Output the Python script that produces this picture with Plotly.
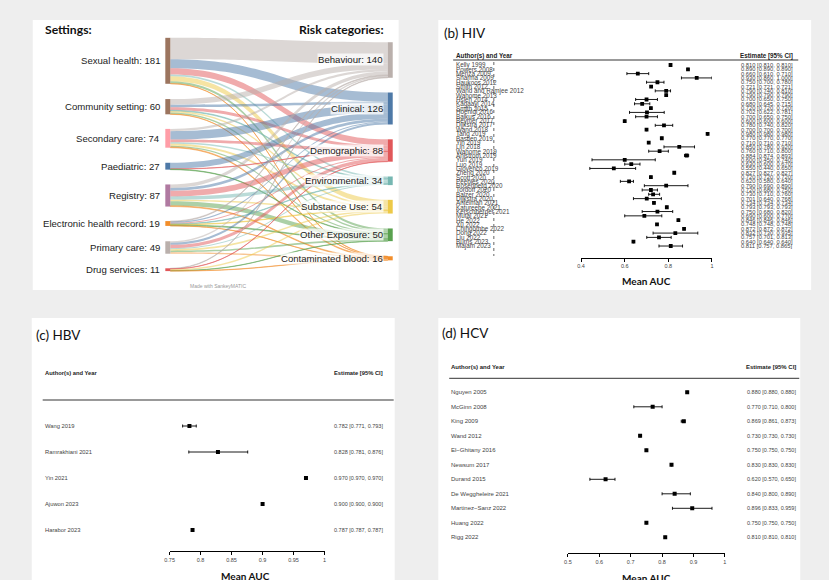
import plotly.graph_objects as go

W, H = 829, 580

# ---------------- Sankey data ----------------
settings = ["Sexual health", "Community setting", "Secondary care", "Paediatric",
            "Registry", "Electronic health record", "Primary care", "Drug services"]
risks = ["Behaviour", "Clinical", "Demographic", "Environmental",
         "Substance Use", "Other Exposure", "Contaminated blood"]
# flows[setting][risk]
flows = [
    [84, 36, 24, 7, 20, 9, 1],
    [22, 10, 12, 3, 6, 6, 1],
    [9, 33, 11, 5, 8, 5, 3],
    [0, 24, 1, 0, 0, 2, 0],
    [14, 11, 22, 13, 6, 18, 3],
    [3, 4, 4, 2, 2, 3, 1],
    [6, 8, 13, 4, 6, 6, 6],
    [2, 0, 1, 0, 6, 1, 1],
]
setting_colors = ["#9c755f", "#9c755f", "#ff9da7", "#4e79a7", "#b07aa1", "#f28e2b", "#bab0ac", "#e15759"]
risk_colors = ["#bab0ac", "#4e79a7", "#e15759", "#76b7b2", "#edc948", "#59a14f", "#f28e2b"]

# ---------------- Forest data ----------------
hiv_names = ["Kelly 1999", "Powers 2008", "Menza 2009", "Sharma 2009", "Haukoos 2012", "Smith 2012",
             "Wand and Ramjee 2012", "Wahome 2013", "Hsieh 2014", "Kagaayi 2014", "Smith 2015",
             "Hoenigl 2016", "Balkus 2016", "Beymer 2017", "Dijkstra 2017", "Wand 2018", "Tang 2019",
             "Bastien 2019", "Yin 2019", "Lin 2018", "Wahome 2019", "Ahlstrom 2019", "Yun 2019",
             "Luo 2019", "Giovenco 2019", "Zheng 2020", "Scott 2020", "Peebles 2020", "Rosenberg 2020",
             "Tordoff 2020", "Balzer 2020", "Dijkstra 2020", "Anteiman 2021", "Katureebe 2021",
             "Kerschberger 2021", "Mutai 2021", "He 2022", "Xu 2022", "Chingombe 2022", "Dong 2022",
             "Liu 2022", "Burns 2023", "Majam 2023"]
hiv_est = [0.810, 0.890, 0.660, 0.930, 0.750, 0.721, 0.790, 0.790, 0.700, 0.680, 0.720, 0.702, 0.700,
           0.600, 0.780, 0.700, 0.980, 0.770, 0.710, 0.850, 0.760, 0.884, 0.600, 0.630, 0.550, 0.827,
           0.720, 0.620, 0.790, 0.720, 0.730, 0.701, 0.734, 0.793, 0.750, 0.690, 0.846, 0.748, 0.872,
           0.832, 0.757, 0.640, 0.811]
hiv_lo = [0.810, 0.890, 0.610, 0.860, 0.700, 0.721, 0.740, 0.790, 0.650, 0.645, 0.720, 0.622, 0.650,
          0.600, 0.740, 0.700, 0.980, 0.770, 0.710, 0.780, 0.710, 0.874, 0.450, 0.600, 0.440, 0.827,
          0.720, 0.580, 0.690, 0.680, 0.710, 0.640, 0.734, 0.793, 0.680, 0.600, 0.846, 0.748, 0.872,
          0.730, 0.701, 0.640, 0.757]
hiv_hi = [0.810, 0.890, 0.710, 1.000, 0.780, 0.721, 0.810, 0.790, 0.750, 0.715, 0.720, 0.781, 0.750,
          0.600, 0.820, 0.700, 0.980, 0.770, 0.710, 0.920, 0.800, 0.893, 0.740, 0.670, 0.650, 0.827,
          0.720, 0.640, 0.890, 0.750, 0.760, 0.768, 0.734, 0.793, 0.820, 0.770, 0.846, 0.748, 0.872,
          0.935, 0.813, 0.640, 0.865]
hiv_ticks = [0.4, 0.6, 0.8, 1.0]
hiv_ticktext = ["0.4", "0.6", "0.8", "1"]

hbv_names = ["Wang 2019", "Ramrakhiani 2021", "Yin 2021", "Ajuwon 2023", "Harabor 2023"]
hbv_est = [0.782, 0.828, 0.970, 0.900, 0.787]
hbv_lo = [0.771, 0.781, 0.970, 0.900, 0.787]
hbv_hi = [0.793, 0.876, 0.970, 0.900, 0.787]
hbv_ticks = [0.75, 0.8, 0.85, 0.9, 0.95, 1.0]
hbv_ticktext = ["0.75", "0.8", "0.85", "0.9", "0.95", "1"]

hcv_names = ["Nguyen 2005", "McGinn 2008", "King 2009", "Wand 2012", "El\u2212Ghitany 2016", "Newsum 2017",
             "Durand 2015", "De Weggheleire 2021", "Martinez\u2212Sanz 2022", "Huang 2022", "Rigg 2022"]
hcv_est = [0.880, 0.770, 0.869, 0.730, 0.750, 0.830, 0.620, 0.840, 0.896, 0.750, 0.810]
hcv_lo = [0.880, 0.710, 0.861, 0.730, 0.750, 0.830, 0.570, 0.800, 0.833, 0.750, 0.810]
hcv_hi = [0.880, 0.800, 0.873, 0.730, 0.750, 0.830, 0.650, 0.890, 0.959, 0.750, 0.810]
hcv_ticks = [0.5, 0.6, 0.7, 0.8, 0.9, 1.0]
hcv_ticktext = ["0.5", "0.6", "0.7", "0.8", "0.9", "1"]


def px(x):
    return x / W


def py(y):
    return 1 - y / H


def rgba(hexc, a):
    h = hexc.lstrip("#")
    return "rgba(%d,%d,%d,%g)" % (int(h[0:2], 16), int(h[2:4], 16), int(h[4:6], 16), a)


fig = go.Figure()
shapes = []
annotations = []

# panels
panels = [(28, 20, 397, 290), (437, 20, 813, 290), (27, 318, 393, 580), (437, 318, 802, 580)]
for (x0, y0, x1, y1) in panels:
    shapes.append(dict(type="rect", xref="paper", yref="paper", x0=px(x0), x1=px(x1), y0=py(y1), y1=py(y0),
                       fillcolor="white", line=dict(width=0), layer="below"))

# ---------------- Sankey ----------------
sx0, sx1, sy0, sy1 = 159, 394, 38, 272
left_cy = [60.8, 106.7, 138.3, 166.2, 195.5, 223.5, 247.5, 269.7]
right_cy = [60.0, 108.5, 150.5, 180.8, 206.7, 234.8, 258.3]
left_cx, right_cx = 164.2, 388.5
node_x = [(left_cx - sx0) / (sx1 - sx0)] * len(settings) + [(right_cx - sx0) / (sx1 - sx0)] * len(risks)
node_y = [(c - sy0) / (sy1 - sy0) for c in left_cy] + [(c - sy0) / (sy1 - sy0) for c in right_cy]

src, tgt, val, lcol = [], [], [], []
for i, row in enumerate(flows):
    for j, v in enumerate(row):
        if v > 0:
            src.append(i)
            tgt.append(len(settings) + j)
            val.append(v)
            lcol.append(rgba(risk_colors[j], 0.5))

fig.add_trace(go.Sankey(
    domain=dict(x=[px(sx0), px(sx1)], y=[py(sy1), py(sy0)]),
    arrangement="fixed",
    node=dict(label=[""] * (len(settings) + len(risks)), x=node_x, y=node_y, pad=15, thickness=5,
              color=setting_colors + risk_colors, line=dict(width=0)),
    link=dict(source=src, target=tgt, value=val, color=lcol),
    hoverinfo="none",
))

lab_font = dict(family="Liberation Sans, Arial", size=9.6, color="#222")
for i, name in enumerate(settings):
    annotations.append(dict(x=px(158), y=py(left_cy[i]), xref="paper", yref="paper", xanchor="right",
                            yanchor="middle", showarrow=False,
                            text="%s: %d" % (name, sum(flows[i])), font=lab_font))
for j, name in enumerate(risks):
    annotations.append(dict(x=px(382), y=py(right_cy[j]), xref="paper", yref="paper", xanchor="right",
                            yanchor="middle", showarrow=False, bgcolor="rgba(255,255,255,0.75)",
                            borderpad=0,
                            text="%s: %d" % (name, sum(r[j] for r in flows)), font=lab_font))
title_font = dict(family="Lato, Open Sans", size=12.2, color="#111")
annotations.append(dict(x=px(38), y=py(30), xref="paper", yref="paper", xanchor="left", yanchor="middle",
                        showarrow=False, text="<b>Settings:</b>", font=title_font))
annotations.append(dict(x=px(384), y=py(30), xref="paper", yref="paper", xanchor="right", yanchor="middle",
                        showarrow=False, text="<b>Risk categories:</b>", font=title_font))
annotations.append(dict(x=px(215), y=py(286), xref="paper", yref="paper", xanchor="center", yanchor="middle",
                        showarrow=False, text="Made with SankeyMATIC",
                        font=dict(family="Liberation Sans", size=5, color="#999")))

# ---------------- Forest plots ----------------
def forest(idx, names, est, lo, hi, ticks, ticktext, xr, xpix, first, spacing, axis_y,
           lab_x, est_x, name_size, est_size, msize, head_y, line_y, line_col, line_w,
           title, title_xy, mean_xy, head_x0, head_x1, dotted=None):
    xa = "xaxis%d" % idx
    ya = "yaxis%d" % idx
    top = first - spacing
    yr = [(axis_y - first) / spacing + 1, 0]
    rows = list(range(1, len(names) + 1))
    fig.add_trace(go.Scatter(
        x=est, y=rows, mode="markers", xaxis="x%d" % idx, yaxis="y%d" % idx,
        marker=dict(symbol="square", size=msize, color="black"),
        error_x=dict(type="data", symmetric=False,
                     array=[h - e for h, e in zip(hi, est)],
                     arrayminus=[e - l for e, l in zip(est, lo)],
                     color="black", thickness=0.9, width=1.5),
        hoverinfo="skip", showlegend=False))
    fig.layout[xa] = dict(domain=[px(xpix[0]), px(xpix[1])], range=xr, anchor="y%d" % idx,
                          showgrid=False, zeroline=False, showline=True, linecolor="black", linewidth=1,
                          ticks="outside", ticklen=3, tickwidth=1, tickcolor="black",
                          tickvals=ticks, ticktext=ticktext, fixedrange=True,
                          tickfont=dict(family="Liberation Sans", size=5.5, color="#444"))
    fig.layout[ya] = dict(domain=[py(axis_y), py(top)], range=yr, anchor="x%d" % idx, visible=False,
                          fixedrange=True)
    yref = "y%d" % idx
    for r, n, e, l, h in zip(rows, names, est, lo, hi):
        annotations.append(dict(x=px(lab_x), y=r, xref="paper", yref=yref, xanchor="left", yanchor="middle",
                                showarrow=False, text=n,
                                font=dict(family="Liberation Sans", size=name_size, color="#444")))
        annotations.append(dict(x=px(est_x), y=r, xref="paper", yref=yref, xanchor="right", yanchor="middle",
                                showarrow=False, text="%.3f [%.3f, %.3f]" % (e, l, h),
                                font=dict(family="Liberation Sans", size=est_size, color="#444")))
    hf = dict(family="Liberation Sans", size=name_size, color="#222")
    annotations.append(dict(x=px(lab_x), y=py(head_y), xref="paper", yref="paper", xanchor="left",
                            yanchor="middle", showarrow=False, text="<b>Author(s) and Year</b>", font=hf))
    annotations.append(dict(x=px(est_x), y=py(head_y), xref="paper", yref="paper", xanchor="right",
                            yanchor="middle", showarrow=False, text="<b>Estimate [95% CI]</b>", font=hf))
    shapes.append(dict(type="line", xref="paper", yref="paper", x0=px(head_x0), x1=px(head_x1),
                       y0=py(line_y), y1=py(line_y), line=dict(color=line_col, width=line_w)))
    annotations.append(dict(x=px(title_xy[0]), y=py(title_xy[1]), xref="paper", yref="paper",
                            xanchor="left", yanchor="middle", showarrow=False, text=title,
                            font=dict(family="Lato, Open Sans", size=13.5, color="#111")))
    annotations.append(dict(x=px(mean_xy[0]), y=py(mean_xy[1]), xref="paper", yref="paper",
                            xanchor="center", yanchor="middle", showarrow=False, text="<b>Mean AUC</b>",
                            font=dict(family="Lato, Open Sans", size=10, color="#111")))
    if dotted:
        shapes.append(dict(type="line", xref="paper", yref="paper", x0=px(dotted[0]), x1=px(dotted[0]),
                           y0=py(dotted[1]), y1=py(dotted[2]), line=dict(color="#666", width=1, dash="dot")))


forest(2, hiv_names, hiv_est, hiv_lo, hiv_hi, hiv_ticks, hiv_ticktext, [0.4, 1.0], (581, 713),
       65, 4.31, 257.5, 453, 797, 6.3, 5.8, 3.8, 56.5, 60, "#777", 1.5,
       "(b) HIV", (441, 33), (647, 281), 452, 800, dotted=(493, 62, 256))
forest(3, hbv_names, hbv_est, hbv_lo, hbv_hi, hbv_ticks, hbv_ticktext, [0.75, 1.0], (166, 322.3),
       426, 26, 551, 38, 383, 5.8, 5.5, 4, 373, 400, "#999", 2,
       "(c) HBV", (29, 335), (243, 576), 38, 392)
forest(4, hcv_names, hcv_est, hcv_lo, hcv_hi, hcv_ticks, hcv_ticktext, [0.5, 1.0], (567.7, 726),
       392.3, 14.5, 553.3, 448, 800, 6, 5.5, 4, 366.5, 378.3, "#333", 1,
       "(d) HCV", (439, 333), (647, 578), 448, 801)

fig.update_layout(width=W, height=H, margin=dict(l=0, r=0, t=0, b=0),
                  paper_bgcolor="#eeeeee", plot_bgcolor="rgba(0,0,0,0)",
                  shapes=shapes, annotations=annotations, showlegend=False)
fig.write_html("out.html", config={"displayModeBar": False},
               post_script="document.body.style.margin='0px';document.body.style.background='#eeeeee';")
